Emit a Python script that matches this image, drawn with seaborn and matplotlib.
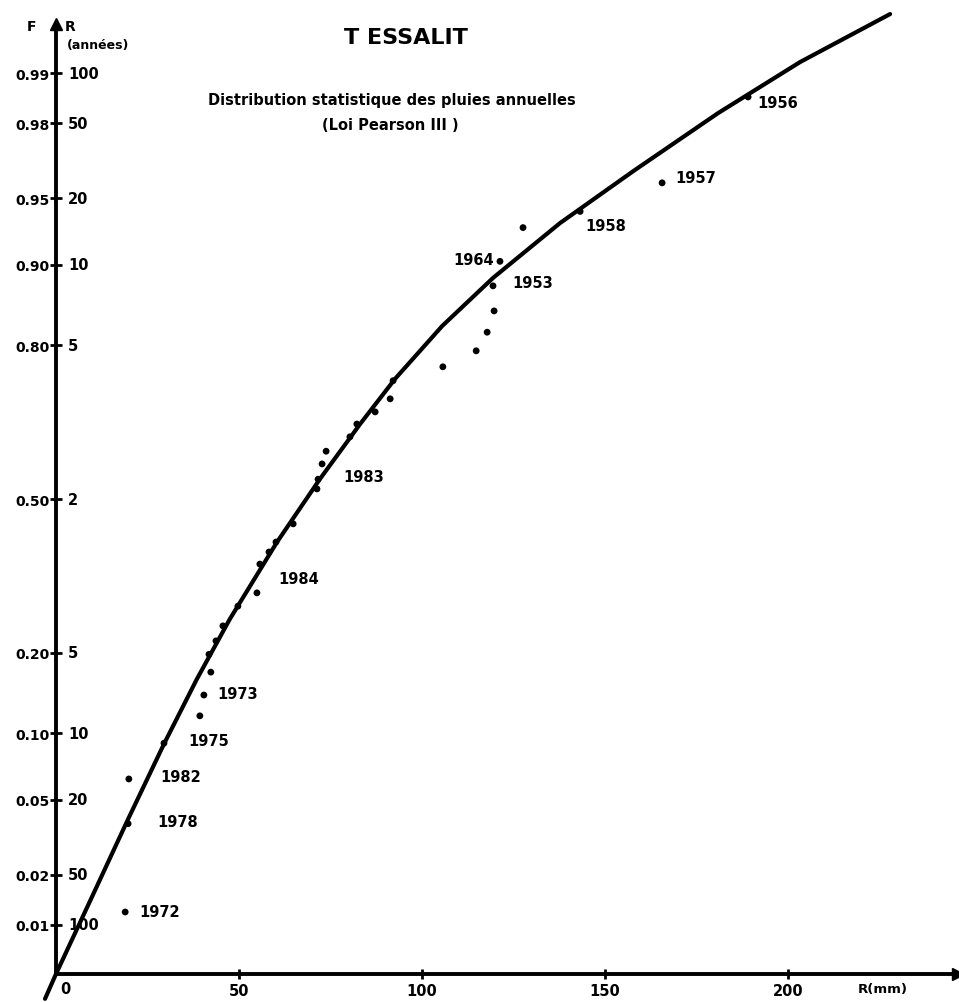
"""Tessalit annual rainfall on a normal probability paper (Pearson III fit)."""

import math

import matplotlib
matplotlib.use("Agg")
import matplotlib.pyplot as plt
import numpy as np
import pandas as pd
import seaborn as sns

# ---------------------------------------------------------------------------
# Data
# ---------------------------------------------------------------------------
# fitted Pearson III curve: rainfall (mm) vs non-exceedance frequency
curve_r = [-3.0, 0.0, 9.3, 19.7, 29.5, 38.5, 47.5, 60.4, 72.1, 83.1,
           92.6, 105.5, 119.4, 137.7, 157.7, 180.9, 203.3, 227.9]
curve_f = [0.00315, 0.00472, 0.0140, 0.0401, 0.0903, 0.1626, 0.2559,
           0.4071, 0.5434, 0.6591, 0.7440, 0.8277, 0.8865, 0.9342, 0.9634,
           0.98253, 0.99153, 0.99598]

# observed annual totals (mm) and plotting frequencies
obs_r = [18.9, 19.7, 19.9, 29.5, 39.3, 40.4, 42.3, 41.8, 43.7, 45.6,
         49.7, 54.9, 55.7, 58.2, 60.1, 64.8, 71.3, 71.6, 72.7, 73.8,
         80.3, 82.2, 87.2, 91.3, 92.1, 105.7, 114.8, 117.8, 119.7, 119.4,
         121.3, 127.6, 143.2, 165.6, 189.1]
obs_f = [0.012, 0.038, 0.063, 0.091, 0.118, 0.142, 0.172, 0.198, 0.219,
         0.244, 0.279, 0.304, 0.361, 0.386, 0.407, 0.446, 0.522, 0.543,
         0.576, 0.603, 0.633, 0.659, 0.683, 0.708, 0.741, 0.765, 0.791,
         0.819, 0.848, 0.878, 0.903, 0.931, 0.942, 0.958, 0.986]
obs_year = ["1972", "1978", "1982", "", "1975", "1973", "", "", "", "",
            "", "1984", "", "", "", "", "", "", "", "1983",
            "", "", "", "", "", "", "", "", "", "1953",
            "1964", "", "1958", "1957", "1956"]

f_ticks = [0.01, 0.02, 0.05, 0.10, 0.20, 0.50, 0.80, 0.90, 0.95, 0.98, 0.99]
f_labels = ["0.01", "0.02", "0.05", "0.10", "0.20", "0.50", "0.80", "0.90",
            "0.95", "0.98", "0.99"]
period_labels = ["100", "50", "20", "10", "5", "2", "5", "10", "20", "50", "100"]
r_ticks = [50, 100, 150, 200]
r_labels = ["50", "100", "150", "200"]

# label placement next to each year's dot (pixels, y up)
year_offsets = {
    "1972": (14, 0, "left"), "1978": (29, 2, "left"), "1982": (31, 2, "left"),
    "1975": (-12, -25, "left"), "1973": (13, 2, "left"), "1984": (21, 14, "left"),
    "1983": (17, -25, "left"), "1953": (19, 3, "left"), "1964": (-6, 2, "right"),
    "1958": (5, -14, "left"), "1957": (13, 5, "left"), "1956": (9, -6, "left"),
}


# ---------------------------------------------------------------------------
# Normal probability scale
# ---------------------------------------------------------------------------
_erf = np.vectorize(math.erf, otypes=[float])


def _phi(z):
    return 0.5 * (1.0 + _erf(np.asarray(z, dtype=float) / math.sqrt(2.0)))


_ZG = np.linspace(-6, 6, 6001)
_FG = _phi(_ZG)


def _probit(f):
    return np.interp(np.asarray(f, dtype=float), _FG, _ZG)


# ---------------------------------------------------------------------------
# Figure
# ---------------------------------------------------------------------------
W, H = 959, 1003
sns.set_style("white")
plt.rcParams["font.family"] = ["DejaVu Sans"]
plt.rcParams["text.color"] = "black"
plt.rcParams["xtick.color"] = "black"
plt.rcParams["ytick.color"] = "black"

fig = plt.figure(figsize=(W / 100, H / 100), dpi=100)


def fx(x):
    return x / W


def fy(y):
    return 1 - y / H


ax = fig.add_axes([fx(56), fy(975), fx(958) - fx(56), fy(25) - fy(975)])
ax.set_yscale("function", functions=(_probit, _phi))
ax.set_xlim(0, (958 - 56) / 3.66)
ax.set_ylim(float(_phi(-2.596)), float(_phi(2.596)))

curve = pd.DataFrame({"R": curve_r, "F": curve_f})
obs = pd.DataFrame({"R": obs_r, "F": obs_f, "year": obs_year})

sns.lineplot(data=curve, x="R", y="F", sort=False, estimator=None,
             color="black", linewidth=3.0, ax=ax, clip_on=False)
sns.scatterplot(data=obs, x="R", y="F", color="black", s=24,
                edgecolor="none", ax=ax, zorder=3)

for _, row in obs.iterrows():
    if not row["year"]:
        continue
    dx, dy, ha = year_offsets[row["year"]]
    ax.annotate(row["year"], (row["R"], row["F"]), xytext=(dx, dy),
                textcoords="offset pixels", ha=ha, va="center",
                fontsize=10.5, fontweight="bold", color="black")

# axes drawn like the hand-made paper
for side in ("top", "right"):
    ax.spines[side].set_visible(False)
for side in ("left", "bottom"):
    ax.spines[side].set_linewidth(2.8)
    ax.spines[side].set_color("black")
ax.plot(1, 0, ">", color="black", markersize=9, transform=ax.transAxes,
        clip_on=False)
ax.plot(0, 1, "^", color="black", markersize=9, transform=ax.transAxes,
        clip_on=False)

ax.set_xticks(r_ticks)
ax.set_xticklabels(r_labels, fontsize=10.5, fontweight="bold")
ax.set_yticks(f_ticks)
ax.set_yticklabels(f_labels, fontsize=10, fontweight="bold")
ax.yaxis.set_minor_locator(matplotlib.ticker.NullLocator())
ax.tick_params(axis="x", bottom=True, direction="inout", length=7,
               width=2, pad=3, labelcolor="black")
ax.tick_params(axis="y", left=True, direction="inout", length=9,
               width=2, pad=0, labelcolor="black")
ax.set_xlabel("")
ax.set_ylabel("")

# return periods on the inner side of the F axis
for f, lab in zip(f_ticks, period_labels):
    ax.annotate(lab, (0, f), xycoords=ax.get_yaxis_transform(),
                xytext=(12, 0), textcoords="offset pixels",
                ha="left", va="center", fontsize=10.5, fontweight="bold")

ax.annotate("0", (0, 0), xycoords="axes fraction", xytext=(9, -15),
            textcoords="offset pixels", ha="center", va="center",
            fontsize=10.5, fontweight="bold", annotation_clip=False)

fig.text(fx(32), fy(27), "F", ha="center", va="center", fontsize=10,
         fontweight="bold")
fig.text(fx(70), fy(27), "R", ha="center", va="center", fontsize=10,
         fontweight="bold")
fig.text(fx(98), fy(46), "(années)", ha="center", va="center", fontsize=9,
         fontweight="bold")
fig.text(fx(883), fy(990), "R(mm)", ha="center", va="center", fontsize=9.5,
         fontweight="bold")

fig.text(fx(406), fy(38), "T ESSALIT", ha="center", va="center",
         fontsize=16, fontweight="bold")
fig.text(fx(392), fy(100), "Distribution statistique des pluies annuelles",
         ha="center", va="center", fontsize=10.5, fontweight="bold")
fig.text(fx(390), fy(126), "(Loi Pearson III )", ha="center", va="center",
         fontsize=10.5, fontweight="bold")

fig.savefig("out.png", dpi=100)
plt.close(fig)
